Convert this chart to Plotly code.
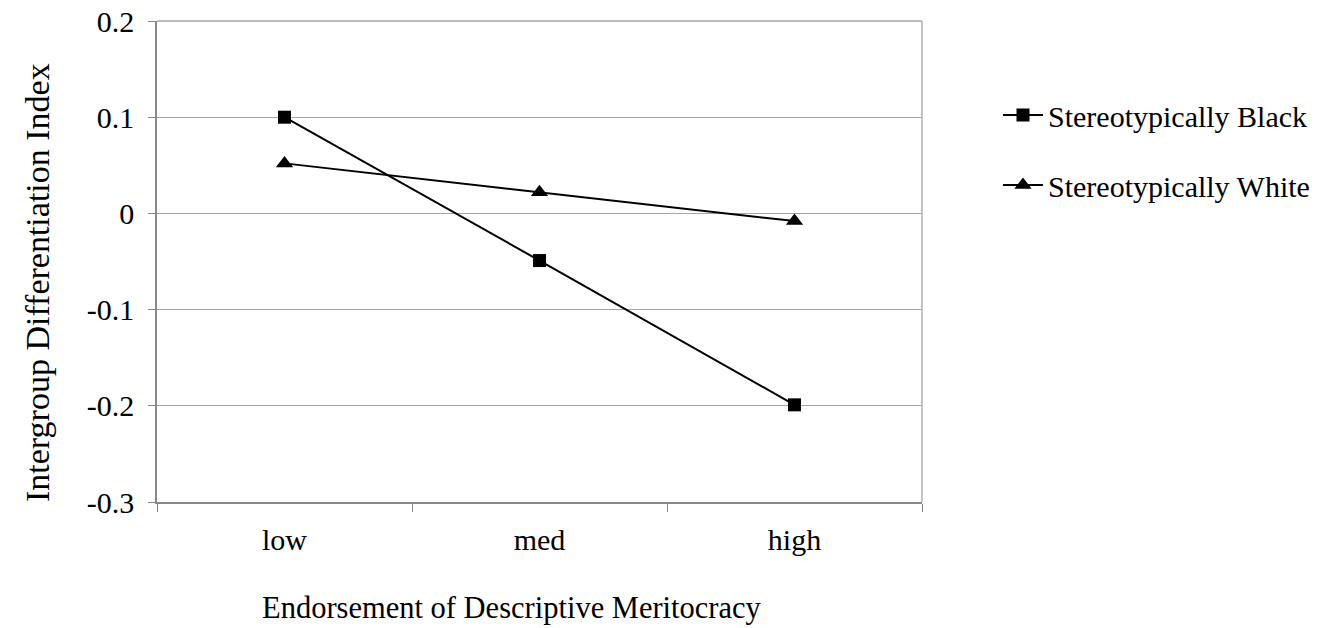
import plotly.graph_objects as go

categories = ["low", "med", "high"]
black_values = [0.100, -0.049, -0.199]
white_values = [0.052, 0.022, -0.008]
y_ticks = [0.2, 0.1, 0, -0.1, -0.2, -0.3]
y_tick_labels = ["0.2", "0.1", "0", "-0.1", "-0.2", "-0.3"]

FONT = "Liberation Serif, Times New Roman, serif"

fig = go.Figure()
fig.add_trace(go.Scatter(
    x=categories, y=black_values, name="Stereotypically Black",
    mode="lines+markers", legendgroup="b",
    line=dict(color="black", width=2),
    marker=dict(symbol="square", size=13, color="black"),
))
fig.add_trace(go.Scatter(
    x=categories, y=white_values, name="Stereotypically White",
    mode="lines+markers", legendgroup="w",
    line=dict(color="black", width=2),
    marker=dict(symbol="triangle-up", size=15, color="black"),
))

# plot area at x 157..922 and y 21..502 (page body margin removed below)
fig.update_layout(
    width=1336, height=628,
    margin=dict(l=157, r=414, t=21, b=126, autoexpand=False),
    paper_bgcolor="white", plot_bgcolor="white",
    font=dict(family=FONT, size=30, color="black"),
    showlegend=True,
    legend=dict(x=(998 - 157) / 765, y=(502 - 89) / 481, xanchor="left", yanchor="top",
                font=dict(family=FONT, size=30), tracegroupgap=28,
                itemwidth=40, bgcolor="rgba(0,0,0,0)"),
    xaxis=dict(
        type="category", range=[-0.5, 2.5], tickson="boundaries",
        ticks="outside", ticklen=8, tickcolor="#888888",
        showline=True, linecolor="#888888", linewidth=2, mirror=False,
        showgrid=False, zeroline=False, ticklabelstandoff=10,
        tickfont=dict(family=FONT, size=30), automargin=False,
    ),
    yaxis=dict(
        range=[-0.3, 0.2], tickvals=y_ticks, ticktext=y_tick_labels,
        ticks="outside", ticklen=7, tickcolor="#888888",
        showline=True, linecolor="#888888", linewidth=1.5,
        showgrid=True, gridcolor="#a6a6a6", gridwidth=1.2,
        zeroline=False, tickfont=dict(family=FONT, size=30),
        ticklabelstandoff=8, ticklabeloverflow="allow", automargin=False,
    ),
)

# top and right border of plot area
fig.add_shape(type="line", xref="paper", yref="paper", x0=0, x1=1, y0=1, y1=1,
              line=dict(color="#a6a6a6", width=1.5))
fig.add_shape(type="line", xref="paper", yref="paper", x0=1, x1=1, y0=0, y1=1,
              line=dict(color="#b0b0b0", width=1.5))

fig.add_annotation(text="Endorsement of Descriptive Meritocracy", xref="paper", yref="paper",
                   x=(512 - 157) / 765, y=-(608 - 502) / 481, xanchor="center", yanchor="middle",
                   showarrow=False, font=dict(family=FONT, size=30.5))
fig.add_annotation(text="Intergroup Differentiation Index", xref="paper", yref="paper",
                   x=-(157 - 38) / 765, y=(502 - 283) / 481, xanchor="center", yanchor="middle",
                   textangle=-90, showarrow=False, font=dict(family=FONT, size=34))

fig.write_html("out.html", config={"displayModeBar": False},
               post_script="document.body.style.margin='0px';")
